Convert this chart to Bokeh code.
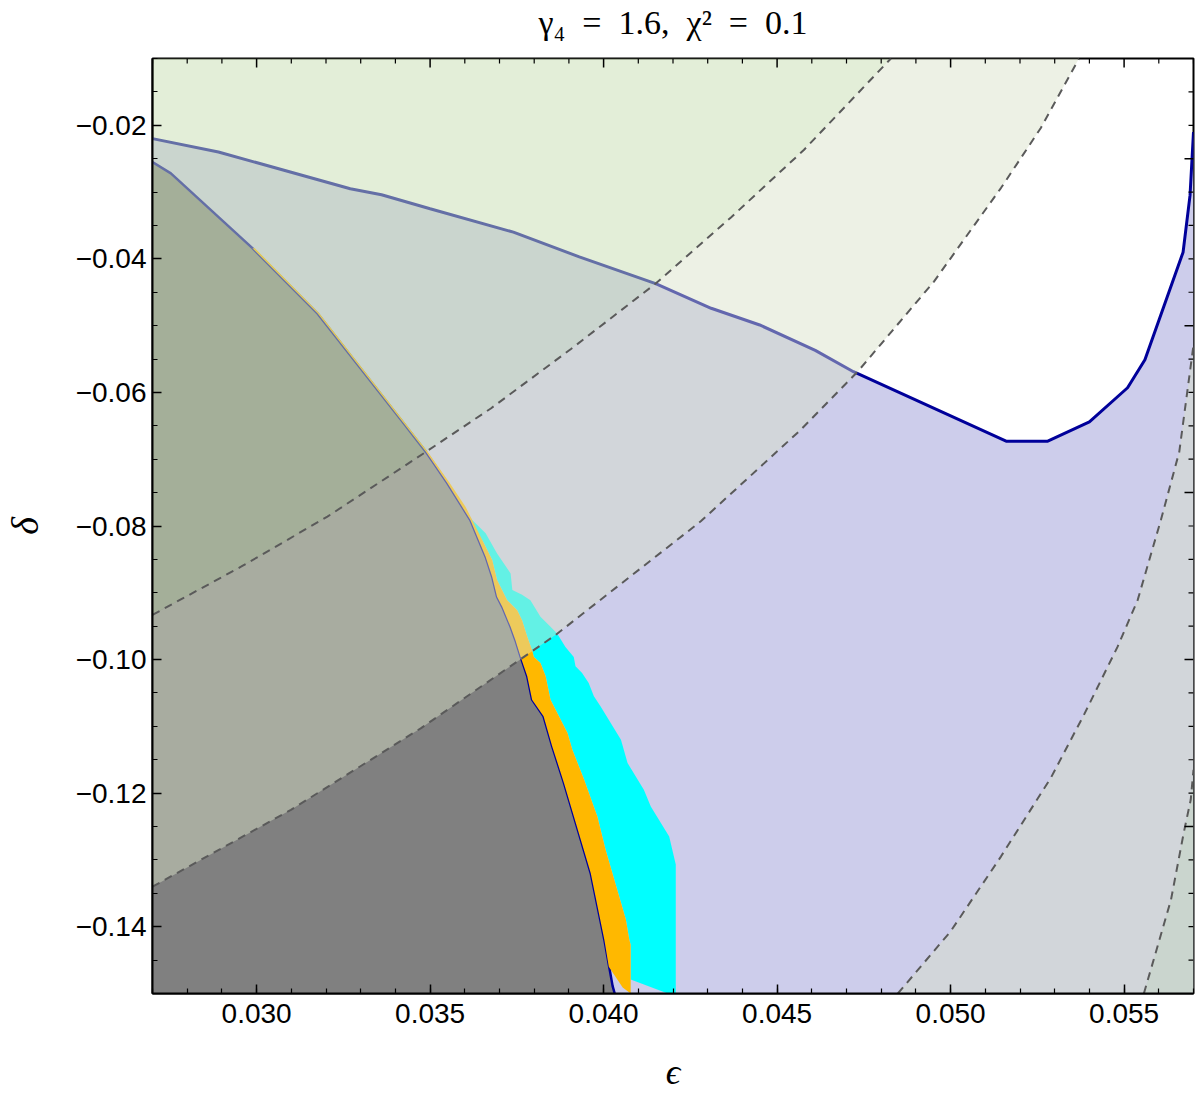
from bokeh.plotting import figure
from bokeh.models import FixedTicker, Range1d, LinearAxis
from bokeh.embed import file_html
from bokeh.resources import INLINE

# ---------------- data ----------------
# upper (dark blue) boundary
eps_upper = [0.0270, 0.0289, 0.0327, 0.0336, 0.0350, 0.0374, 0.0393, 0.0415, 0.0431,
             0.0445, 0.0461, 0.0472, 0.0516, 0.0528, 0.0540, 0.0551, 0.0556, 0.0567,
             0.0569, 0.0570]
delta_upper = [-0.0220, -0.0240, -0.0295, -0.0304, -0.0325, -0.0360, -0.0397, -0.0437,
               -0.0474, -0.0499, -0.0537, -0.0569, -0.0673, -0.0673, -0.0644, -0.0593,
               -0.0551, -0.0390, -0.0305, -0.0210]

# left (grey region) boundary
eps_edge = [0.0270, 0.02753, 0.02988, 0.03176, 0.03416, 0.03488, 0.03550, 0.03616,
            0.03660, 0.03679, 0.03693, 0.03708, 0.03732, 0.03746, 0.03761, 0.03780,
            0.03794, 0.03827, 0.03852, 0.03886, 0.03963, 0.04002, 0.04026, 0.04032]
delta_edge = [-0.0255, -0.0272, -0.0384, -0.0482, -0.0641, -0.0689, -0.0736, -0.0791,
              -0.0846, -0.0876, -0.0906, -0.0921, -0.0951, -0.0971, -0.0996, -0.1025,
              -0.1060, -0.1085, -0.1130, -0.1185, -0.1320, -0.1419, -0.1489, -0.1500]

# orange band: right edge (top to bottom) and bottom corner
eps_orange_r = [0.02995, 0.03181, 0.03421, 0.03493, 0.03557, 0.03602, 0.03655, 0.03679,
                0.03693, 0.03722, 0.03751, 0.03765, 0.03780, 0.03794, 0.03799, 0.03818,
                0.03833, 0.03847, 0.03896, 0.03910, 0.03944, 0.03982, 0.04006, 0.04064,
                0.04074, 0.04078, 0.04078]
delta_orange_r = [-0.0384, -0.0482, -0.0641, -0.0689, -0.0736, -0.0771, -0.0826, -0.0851,
                  -0.0881, -0.0911, -0.0926, -0.0941, -0.0966, -0.0986, -0.0996, -0.1005,
                  -0.1025, -0.1060, -0.1110, -0.1135, -0.1180, -0.1235, -0.1285, -0.1389,
                  -0.1419, -0.1427, -0.1500]
eps_orange_bottom = [0.04015, 0.04055, 0.04078]
delta_orange_bottom = [-0.1460, -0.1491, -0.1500]

# cyan band: right edge (top to bottom) and bottom corner
eps_cyan_r = [0.03612, 0.03660, 0.03693, 0.03732, 0.03737, 0.03765, 0.03789, 0.03818,
              0.03847, 0.03866, 0.03890, 0.03914, 0.03919, 0.03938, 0.03957, 0.03972,
              0.03991, 0.04050, 0.04069, 0.04116, 0.04136, 0.04189, 0.04208, 0.04208]
delta_cyan_r = [-0.0786, -0.0811, -0.0841, -0.0871, -0.0896, -0.0903, -0.0911, -0.0936,
                -0.0951, -0.0961, -0.0981, -0.0996, -0.1010, -0.1020, -0.1035, -0.1055,
                -0.1070, -0.1120, -0.1155, -0.1195, -0.1220, -0.1265, -0.1307, -0.1500]
eps_cyan_bottom = [0.04185, 0.04078]
delta_cyan_bottom = [-0.1500, -0.1479]

# dashed contours
c1_eps = [0.02700, 0.02955, 0.03204, 0.03488, 0.03675, 0.03906, 0.04150, 0.04367,
          0.04577, 0.04828]
c1_delta = [-0.0933, -0.0861, -0.0786, -0.0689, -0.0624, -0.0535, -0.0437,
            -0.0338, -0.0237, -0.0100]
c2_eps = [0.02700, 0.03099, 0.03473, 0.03862, 0.04280, 0.04568, 0.04732, 0.04952,
          0.05145, 0.05260, 0.05370]
c2_delta = [-0.1340, -0.1225, -0.1103, -0.0963, -0.0793, -0.0656, -0.0569, -0.0434,
            -0.0294, -0.0204, -0.0100]
c3_eps = [0.04848, 0.05000, 0.05145, 0.05289, 0.05384, 0.05481, 0.05539, 0.05606,
          0.05659, 0.05700]
c3_delta = [-0.1500, -0.1407, -0.1295, -0.1177, -0.1083, -0.0981, -0.0911, -0.0791,
            -0.0689, -0.0529]
c4_eps = [0.05557, 0.05635, 0.05672, 0.05692, 0.05700]
c4_delta = [-0.1500, -0.1360, -0.1259, -0.1210, -0.1165]

x_ticks = [0.030, 0.035, 0.040, 0.045, 0.050, 0.055]
x_tick_labels = ["0.030", "0.035", "0.040", "0.045", "0.050", "0.055"]
y_ticks = [-0.14, -0.12, -0.10, -0.08, -0.06, -0.04, -0.02]
y_tick_labels = ["\u22120.14", "\u22120.12", "\u22120.10", "\u22120.08", "\u22120.06",
                 "\u22120.04", "\u22120.02"]
y_ticks_right = [-0.125, -0.10, -0.075, -0.05, -0.025]
x_minor = [round(0.027 + 0.001 * i, 3) for i in range(31)]
y_minor = [round(-0.15 + 0.005 * i, 3) for i in range(29)]

title_text = "\u03b3\u2084\u2002=\u20021.6,\u2002\u03c7\u00b2\u2002=\u20020.1"

X0, X1, Y0, Y1 = 0.027, 0.057, -0.15, -0.01

# ---------------- figure geometry ----------------
W, H = 1196, 1094
BL, BR, BT = 152, 3, 58
FW = W - BL - BR          # 1041 px frame width
FH = 936                  # frame height
BB = H - BT - FH
PPX = FW / (X1 - X0)
PPY = FH / (Y1 - Y0)

p = figure(width=W, height=H, x_range=Range1d(X0, X1), y_range=Range1d(Y0, Y1),
           output_backend="svg", toolbar_location=None,
           min_border_left=BL, min_border_right=BR, min_border_top=BT, min_border_bottom=BB)
p.xgrid.visible = False
p.ygrid.visible = False
p.outline_line_color = "black"
p.outline_line_width = 2
p.background_fill_color = "white"
p.border_fill_color = "white"

LAV = "#cdcdeb"
GREY = "#808080"
NAVY = "#00009a"

# lavender region below the upper boundary
p.patch(eps_upper + [X1, X0], delta_upper + [Y0, Y0], fill_color=LAV, line_color=None)
# grey region
p.patch(eps_edge + [X0], delta_edge + [Y0], fill_color=GREY, line_color=None)
# cyan band
orange_r = list(zip(eps_orange_r, delta_orange_r))
back = [pt for pt in orange_r if -0.1479 < pt[1] < -0.0786][::-1]
cx = eps_cyan_r + eps_cyan_bottom + [pt[0] for pt in back]
cy = delta_cyan_r + delta_cyan_bottom + [pt[1] for pt in back]
p.patch(cx, cy, fill_color="#00ffff", line_color=None)
# boundary line of the grey region
p.line(eps_edge, delta_edge, line_color=NAVY, line_width=2.5)
# orange band
left = [pt for pt in zip(eps_edge, delta_edge) if -0.1419 <= pt[1] <= -0.0384]
ox = [pt[0] for pt in left] + eps_orange_bottom + eps_orange_r[::-1]
oy = [pt[1] for pt in left] + delta_orange_bottom + delta_orange_r[::-1]
p.patch(ox, oy, fill_color="#ffb800", line_color=None)
# upper boundary line
p.line(eps_upper, delta_upper, line_color=NAVY, line_width=3)

# green translucent bands
BAND = "#d7e1c6"
OUTER = "#c8deb1"
p.patch(c1_eps + [X0], c1_delta + [Y1], fill_color=OUTER, fill_alpha=0.5, line_color=None)
p.patch(c1_eps + c2_eps[::-1], c1_delta + c2_delta[::-1], fill_color=BAND, fill_alpha=0.46,
        line_color=None)
p.patch(c3_eps + c4_eps[::-1], c3_delta + c4_delta[::-1], fill_color=BAND, fill_alpha=0.46,
        line_color=None)
p.patch(c4_eps + [X1], c4_delta + [Y0], fill_color=OUTER, fill_alpha=0.5, line_color=None)

# dashed contours
for ex, dy in [(c1_eps, c1_delta), (c2_eps, c2_delta), (c3_eps, c3_delta), (c4_eps, c4_delta)]:
    p.line(ex, dy, line_color="#5a5a5a", line_width=2, line_dash="8 6")

# ---------------- axes ----------------
def style_axis(ax):
    ax.major_tick_in = 9
    ax.major_tick_out = 0
    ax.minor_tick_in = 5
    ax.minor_tick_out = 0
    ax.major_tick_line_width = 1.5
    ax.minor_tick_line_width = 1.2
    ax.major_tick_line_color = "black"
    ax.minor_tick_line_color = "black"
    ax.axis_line_width = 2
    ax.axis_line_color = "black"
    ax.major_label_text_font = "Liberation Sans"
    ax.major_label_text_font_size = "28px"
    ax.major_label_text_color = "black"
    ax.major_label_standoff = 6
    ax.axis_label_text_font = "Liberation Serif"
    ax.axis_label_text_font_style = "italic"
    ax.axis_label_text_color = "black"

xa = p.xaxis[0]
ya = p.yaxis[0]
xa.ticker = FixedTicker(ticks=x_ticks, minor_ticks=x_minor)
ya.ticker = FixedTicker(ticks=y_ticks, minor_ticks=y_minor)
xa.major_label_overrides = dict(zip(x_ticks, x_tick_labels))
ya.major_label_overrides = dict(zip(y_ticks, y_tick_labels))
style_axis(xa)
style_axis(ya)
xa.major_label_standoff = 10
xa.axis_label = "\u03f5"
xa.axis_label_text_font_size = "36px"
xa.axis_label_standoff = 26
ya.axis_label = "\u03b4"
ya.axis_label_text_font_size = "38px"
ya.axis_label_standoff = 27

# frame ticks on top and right (no labels)
MAJ, MIN = 9, 5
top_minor = [t for t in x_minor if all(abs(t - m) > 1e-9 for m in x_ticks)]
right_minor = [t for t in y_minor if all(abs(t - m) > 1e-9 for m in y_ticks_right)]
p.segment(x0=x_ticks, y0=[Y1] * len(x_ticks), x1=x_ticks, y1=[Y1 - MAJ / PPY] * len(x_ticks),
          line_color="black", line_width=1.5)
p.segment(x0=top_minor, y0=[Y1] * len(top_minor), x1=top_minor,
          y1=[Y1 - MIN / PPY] * len(top_minor), line_color="black", line_width=1.2)
p.segment(x0=[X1] * len(y_ticks_right), y0=y_ticks_right,
          x1=[X1 - MAJ / PPX] * len(y_ticks_right), y1=y_ticks_right,
          line_color="black", line_width=1.5)
p.segment(x0=[X1] * len(right_minor), y0=right_minor, x1=[X1 - MIN / PPX] * len(right_minor),
          y1=right_minor, line_color="black", line_width=1.2)

# ---------------- title (as the label of a tick-less top axis) ----------------
top_ax = LinearAxis(ticker=FixedTicker(ticks=[]), axis_label=title_text)
top_ax.axis_line_color = None
top_ax.major_tick_line_color = None
top_ax.minor_tick_line_color = None
top_ax.major_tick_out = 0
top_ax.minor_tick_out = 0
top_ax.major_tick_in = 0
top_ax.minor_tick_in = 0
top_ax.major_label_standoff = 0
top_ax.axis_label_text_font = "Liberation Serif"
top_ax.axis_label_text_font_size = "34px"
top_ax.axis_label_text_font_style = "normal"
top_ax.axis_label_text_color = "black"
top_ax.axis_label_standoff = 18
p.add_layout(top_ax, "above")

open("out.html", "w").write(file_html(p, INLINE))
